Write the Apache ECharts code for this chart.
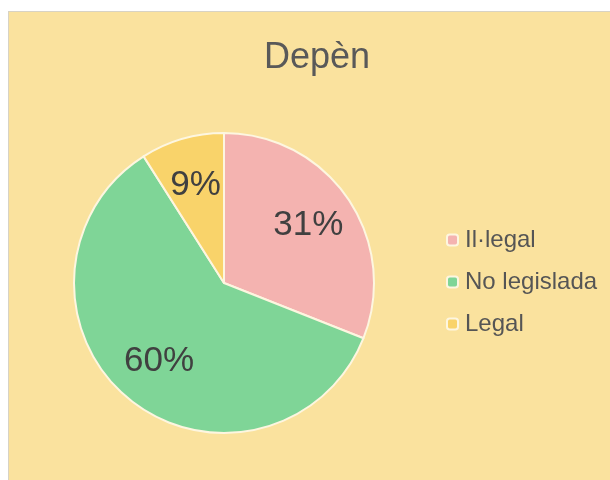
<!DOCTYPE html>
<html>
<head>
    <meta charset="utf-8">
    <title>Depèn</title>
    <script src="https://cdn.jsdelivr.net/npm/echarts@6/dist/echarts.min.js"></script>
    <style>
        body { margin: 0; background: #ffffff; }
        #box {
            position: absolute; left: 8px; top: 11px;
            width: 601px; height: 469px;
            background: #fae29e;
            border-left: 1px solid #d8d3c4;
            border-top: 1px solid #d8d3c4;
        }
        #main { width: 601px; height: 469px; }
    </style>
</head>
<body>
    <div id="box"><div id="main"></div></div>

    <script type="text/javascript">
        // categorias y valores (en %)
        var categories = ['Il·legal', 'No legislada', 'Legal'];
        var values = [31, 60, 9];
        var colors = ['#f4b3b0', '#7fd597', '#f9d36a'];

        var pieData = categories.map(function (name, i) {
            return { name: name, value: values[i], itemStyle: { color: colors[i] } };
        });
        // capa transparente solo para colocar las etiquetas mas afuera
        var labelData = categories.map(function (name, i) {
            return { name: name, value: values[i] };
        });

        var myChart = echarts.init(document.getElementById('main'));

        var option = {
            animation: false,
            textStyle: { fontFamily: 'Liberation Sans, Arial, sans-serif' },
            title: {
                text: 'Depèn',
                left: 303,
                top: 23,
                textAlign: 'center',
                textStyle: { fontSize: 36, fontWeight: 'normal', color: '#595959' }
            },
            legend: {
                orient: 'vertical',
                left: 437,
                top: 216,
                padding: 0,
                itemWidth: 11,
                itemHeight: 11,
                itemGap: 18,
                data: categories,
                textStyle: { fontSize: 24, color: '#555555', padding: [0, 0, 0, 2] }
            },
            series: [{
                type: 'pie',
                center: [215, 271],
                radius: [0, 150],
                startAngle: 90,
                clockwise: true,
                itemStyle: { borderColor: '#fdf6e0', borderWidth: 2 },
                label: { show: false },
                labelLine: { show: false },
                emphasis: { disabled: true },
                data: pieData
            }, {
                type: 'pie',
                center: [215, 271],
                radius: [0, 198],
                startAngle: 90,
                clockwise: true,
                silent: true,
                legendHoverLink: false,
                itemStyle: { color: 'rgba(0,0,0,0)', borderWidth: 0 },
                label: {
                    show: true,
                    position: 'inside',
                    formatter: '{c}%',
                    fontSize: 35,
                    color: '#404040'
                },
                labelLine: { show: false },
                data: labelData
            }]
        };

        myChart.setOption(option);
    </script>
</body>
</html>
